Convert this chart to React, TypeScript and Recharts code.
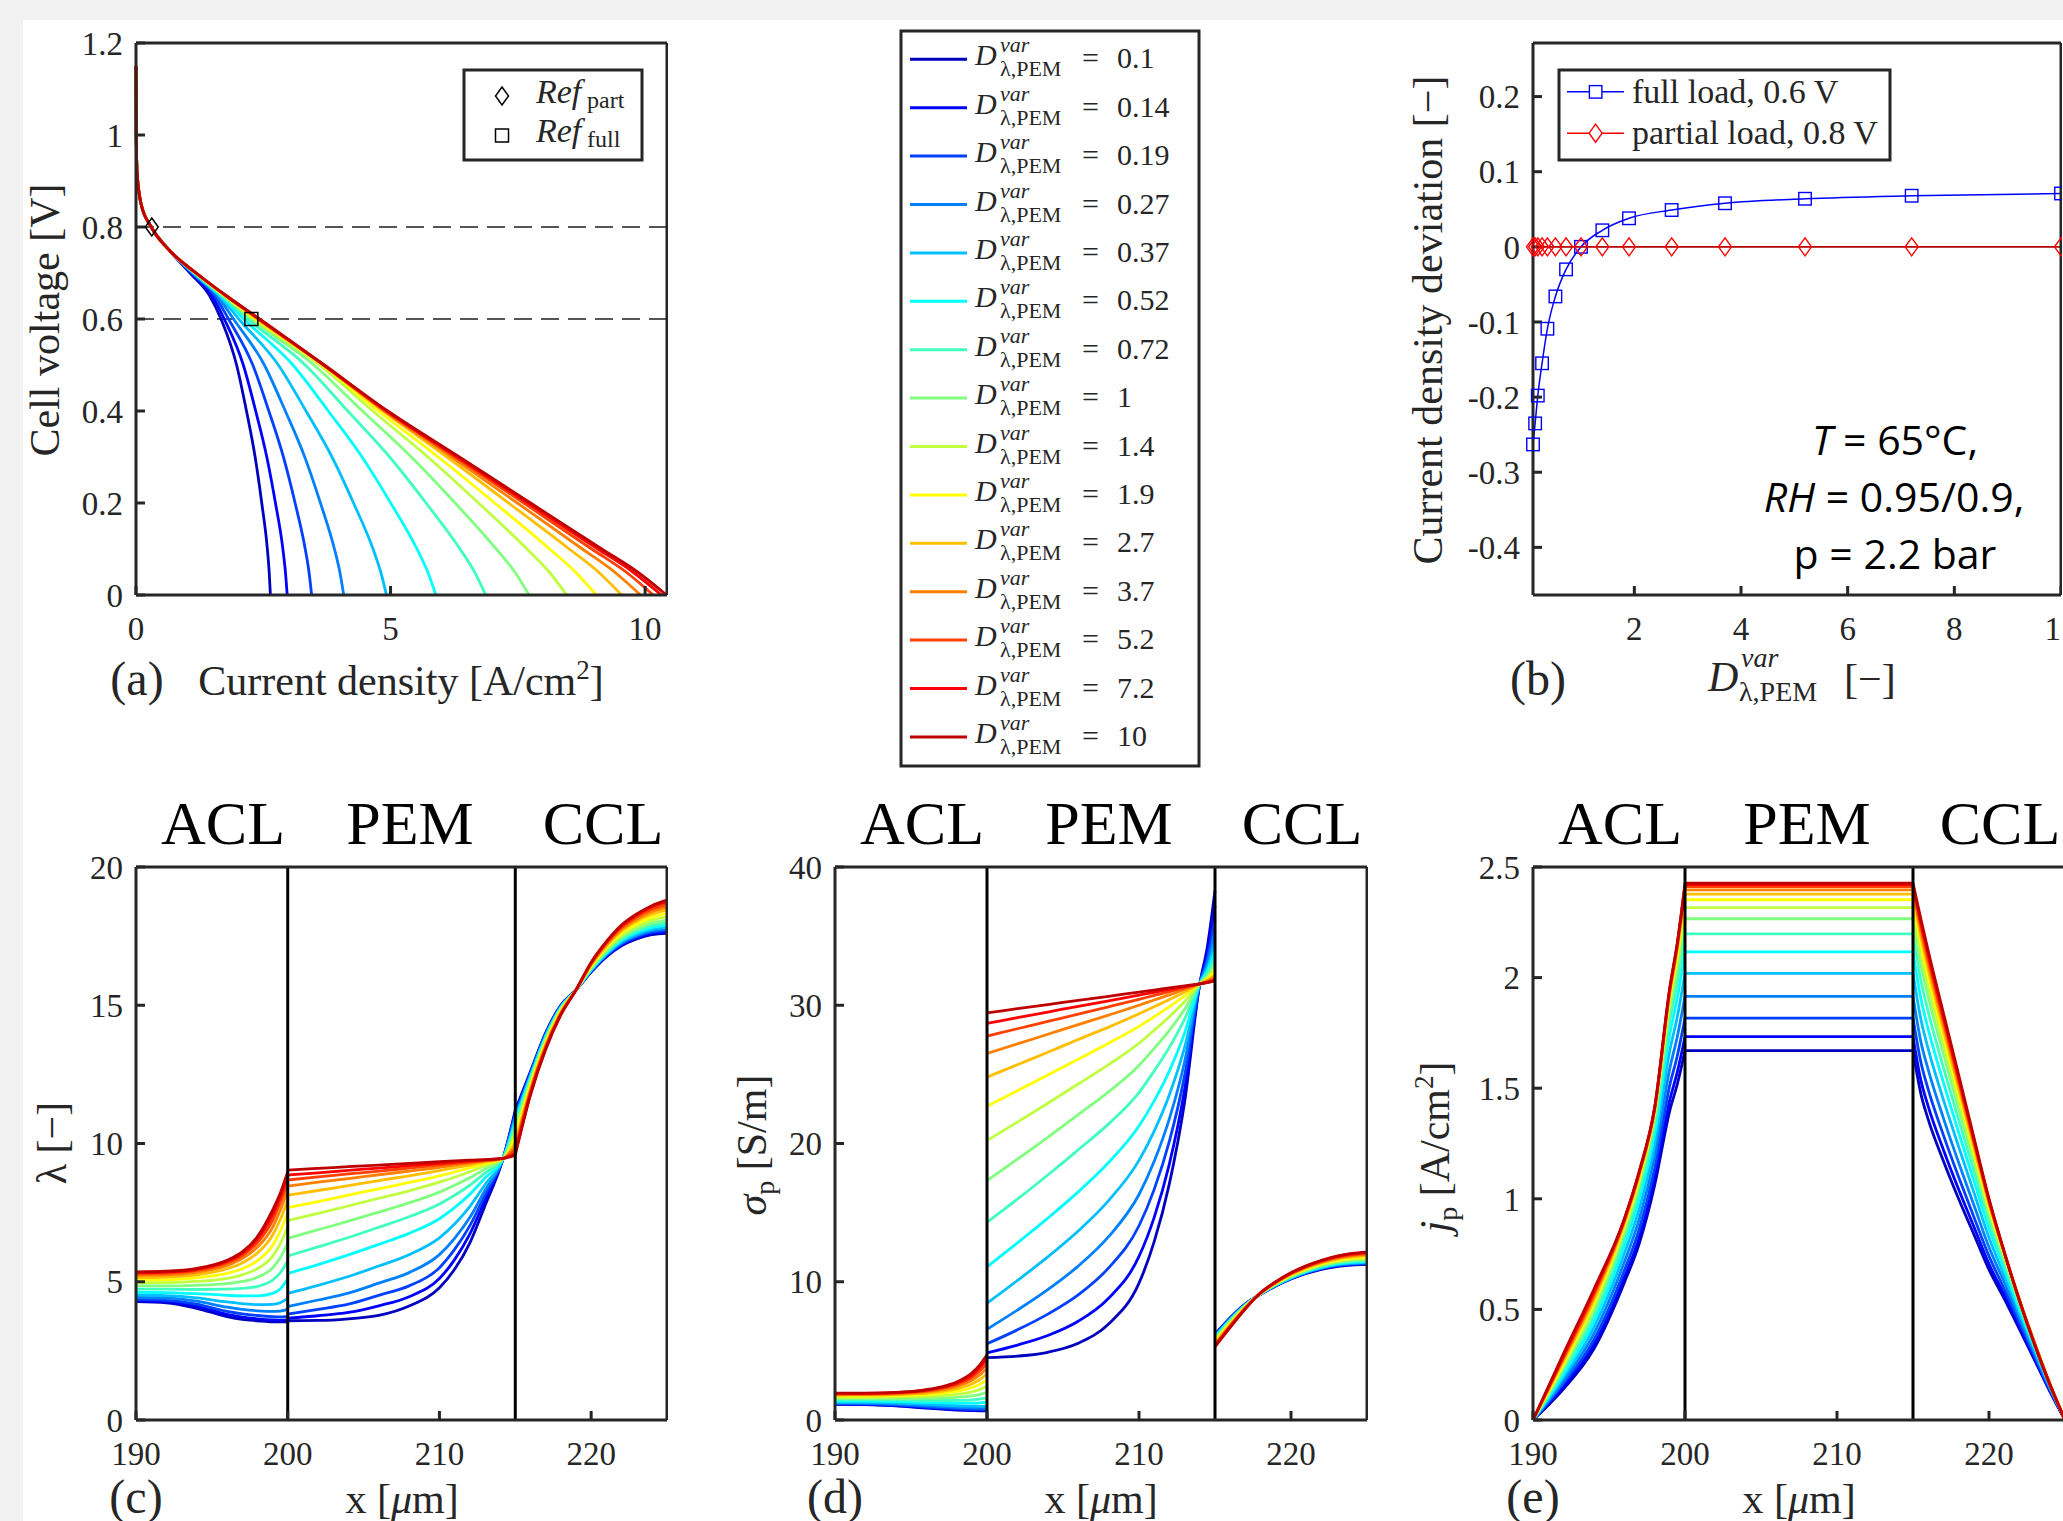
import React from "react";
import { LineChart, Line, XAxis, YAxis, ReferenceLine, ReferenceDot } from "recharts";

const SERIF = "'Liberation Serif', 'Times New Roman', serif";
const SANS = "'Open Sans', 'Noto Sans', sans-serif";
const INK = "#262626";

// ---- shared series ----
const D_VALUES = [0.1, 0.14, 0.19, 0.27, 0.37, 0.52, 0.72, 1, 1.4, 1.9, 2.7, 3.7, 5.2, 7.2, 10];
const D_LABELS = ["0.1", "0.14", "0.19", "0.27", "0.37", "0.52", "0.72", "1", "1.4", "1.9", "2.7", "3.7", "5.2", "7.2", "10"];
const COLORS = [
  "#0000bf", "#0000ff", "#0040ff", "#0080ff", "#00bfff", "#00ffff", "#40ffbf", "#80ff80",
  "#bfff40", "#ffff00", "#ffbf00", "#ff8000", "#ff4000", "#ff0000", "#bf0000",
];

// ---- (a) polarization curves: current density at each voltage level ----
const V_LEVELS = [1.15, 1.0, 0.92, 0.85, 0.8, 0.75, 0.7, 0.65, 0.6, 0.5, 0.4, 0.3, 0.2, 0.1, 0.05, 0];
const J_HEAD = [0, 0.005, 0.02, 0.1, 0.3, 0.65];
const J_TAIL = [
  [1.06, 1.45, 1.670, 1.976, 2.170, 2.340, 2.470, 2.580, 2.616, 2.64],
  [1.08, 1.50, 1.733, 2.108, 2.351, 2.569, 2.739, 2.885, 2.935, 2.97],
  [1.10, 1.55, 1.817, 2.294, 2.609, 2.896, 3.125, 3.324, 3.398, 3.45],
  [1.115, 1.60, 1.915, 2.521, 2.933, 3.314, 3.623, 3.898, 4.004, 4.08],
  [1.13, 1.64, 2.019, 2.796, 3.339, 3.850, 4.273, 4.656, 4.807, 4.92],
  [1.14, 1.67, 2.116, 3.082, 3.777, 4.441, 5.003, 5.520, 5.731, 5.89],
  [1.15, 1.70, 2.198, 3.324, 4.160, 4.983, 5.697, 6.365, 6.650, 6.87],
  [1.16, 1.72, 2.266, 3.493, 4.448, 5.408, 6.269, 7.076, 7.442, 7.72],
  [1.165, 1.74, 2.316, 3.606, 4.651, 5.732, 6.727, 7.680, 8.116, 8.46],
  [1.17, 1.75, 2.352, 3.649, 4.760, 5.937, 7.047, 8.124, 8.632, 9.04],
  [1.175, 1.76, 2.377, 3.681, 4.848, 6.109, 7.319, 8.509, 9.082, 9.54],
  [1.18, 1.77, 2.397, 3.682, 4.876, 6.199, 7.491, 8.768, 9.399, 9.91],
  [1.18, 1.775, 2.411, 3.682, 4.906, 6.270, 7.618, 8.951, 9.625, 10.16],
  [1.18, 1.78, 2.420, 3.692, 4.924, 6.315, 7.697, 9.072, 9.759, 10.32],
  [1.18, 1.78, 2.427, 3.698, 4.945, 6.352, 7.750, 9.149, 9.852, 10.42],
];
const REF_PART = { j: 0.31, v: 0.8 };
const REF_FULL = { j: 2.266, v: 0.6 };

// ---- (b) current density deviation ----
const FULL_DEV = [-0.263, -0.235, -0.198, -0.155, -0.109, -0.066, -0.030, 0, 0.022, 0.038, 0.049, 0.058, 0.064, 0.068, 0.071];
const PARTIAL_DEV = [0, 0, 0, 0, 0, 0, 0, 0, 0, 0, 0, 0, 0, 0, 0];

// ---- x grids (µm) ----
const ACL_X = [190, 192, 194, 196, 197, 198, 199, 199.5, 200];
const CCL_X = [215, 216, 217, 218, 219, 220, 221, 222, 223, 224, 225];

// ---- (c) lambda ----
const LAMBDA_PEM_X = [200, 202, 204, 206, 208, 210, 211, 212, 213, 214.2, 215];
const LAMBDA_ACL = [
  [4.28, 4.24, 4.04, 3.74, 3.64, 3.59, 3.55, 3.55, 3.55],
  [4.31, 4.28, 4.11, 3.82, 3.72, 3.66, 3.62, 3.61, 3.62],
  [4.36, 4.33, 4.19, 3.93, 3.84, 3.78, 3.74, 3.73, 3.75],
  [4.43, 4.41, 4.30, 4.08, 4.00, 3.95, 3.93, 3.94, 4.00],
  [4.52, 4.50, 4.42, 4.27, 4.21, 4.17, 4.18, 4.24, 4.40],
  [4.62, 4.61, 4.57, 4.51, 4.49, 4.49, 4.58, 4.74, 5.10],
  [4.73, 4.73, 4.72, 4.73, 4.76, 4.83, 5.06, 5.32, 5.75],
  [4.85, 4.85, 4.87, 4.93, 5.01, 5.16, 5.50, 5.86, 6.40],
  [4.96, 4.97, 5.01, 5.12, 5.25, 5.47, 5.92, 6.36, 7.00],
  [5.06, 5.07, 5.14, 5.30, 5.47, 5.76, 6.31, 6.82, 7.50],
  [5.15, 5.17, 5.25, 5.47, 5.68, 6.04, 6.68, 7.24, 7.95],
  [5.23, 5.25, 5.34, 5.59, 5.84, 6.25, 6.97, 7.58, 8.30],
  [5.29, 5.31, 5.41, 5.68, 5.95, 6.41, 7.22, 7.86, 8.55],
  [5.33, 5.35, 5.45, 5.74, 6.03, 6.54, 7.43, 8.05, 8.80],
  [5.36, 5.38, 5.48, 5.78, 6.08, 6.63, 7.59, 8.19, 8.97],
];
const LAMBDA_PEM = [
  [3.59, 3.60, 3.66, 3.78, 4.12, 4.78, 5.45, 6.40, 7.75, 9.46, 11.20],
  [3.68, 3.77, 3.89, 4.13, 4.46, 5.12, 5.80, 6.72, 7.95, 9.46, 11.13],
  [3.83, 4.00, 4.19, 4.51, 4.85, 5.51, 6.17, 7.02, 8.13, 9.46, 11.07],
  [4.10, 4.34, 4.59, 4.95, 5.33, 5.98, 6.57, 7.32, 8.30, 9.46, 10.98],
  [4.58, 4.87, 5.19, 5.57, 5.98, 6.59, 7.09, 7.72, 8.51, 9.46, 10.90],
  [5.30, 5.62, 5.97, 6.35, 6.75, 7.28, 7.68, 8.16, 8.75, 9.46, 10.80],
  [5.93, 6.26, 6.60, 6.97, 7.35, 7.81, 8.13, 8.49, 8.93, 9.46, 10.69],
  [6.57, 6.88, 7.19, 7.52, 7.85, 8.24, 8.49, 8.76, 9.08, 9.46, 10.55],
  [7.21, 7.47, 7.74, 8.02, 8.29, 8.60, 8.78, 8.98, 9.20, 9.46, 10.39],
  [7.68, 7.90, 8.13, 8.36, 8.59, 8.83, 8.97, 9.12, 9.27, 9.46, 10.23],
  [8.13, 8.30, 8.48, 8.66, 8.83, 9.02, 9.12, 9.22, 9.33, 9.46, 10.05],
  [8.46, 8.60, 8.73, 8.87, 9.00, 9.14, 9.22, 9.29, 9.37, 9.46, 9.92],
  [8.68, 8.79, 8.90, 9.00, 9.11, 9.22, 9.28, 9.33, 9.39, 9.46, 9.78],
  [8.86, 8.94, 9.03, 9.11, 9.20, 9.28, 9.33, 9.37, 9.41, 9.46, 9.65],
  [9.04, 9.10, 9.16, 9.22, 9.28, 9.34, 9.37, 9.40, 9.42, 9.46, 9.58],
];
const LAMBDA_CCL = [
  [11.20, 12.60, 14.00, 15.00, 15.55, 16.20, 16.75, 17.15, 17.40, 17.55, 17.60],
  [11.13, 12.56, 13.97, 14.99, 15.55, 16.21, 16.77, 17.18, 17.44, 17.59, 17.65],
  [11.07, 12.53, 13.95, 14.97, 15.55, 16.23, 16.80, 17.21, 17.47, 17.64, 17.70],
  [10.98, 12.49, 13.92, 14.95, 15.55, 16.25, 16.82, 17.25, 17.52, 17.69, 17.76],
  [10.90, 12.44, 13.89, 14.94, 15.55, 16.26, 16.85, 17.29, 17.56, 17.74, 17.82],
  [10.80, 12.39, 13.85, 14.91, 15.55, 16.29, 16.89, 17.34, 17.63, 17.81, 17.90],
  [10.69, 12.33, 13.81, 14.89, 15.55, 16.31, 16.92, 17.39, 17.69, 17.88, 17.98],
  [10.55, 12.26, 13.76, 14.86, 15.55, 16.34, 16.97, 17.45, 17.76, 17.97, 18.08],
  [10.39, 12.18, 13.70, 14.83, 15.55, 16.38, 17.03, 17.53, 17.85, 18.08, 18.20],
  [10.23, 12.09, 13.64, 14.79, 15.55, 16.41, 17.08, 17.60, 17.94, 18.18, 18.32],
  [10.05, 12.00, 13.58, 14.75, 15.55, 16.45, 17.14, 17.68, 18.04, 18.29, 18.45],
  [9.92, 11.93, 13.52, 14.72, 15.55, 16.48, 17.19, 17.74, 18.11, 18.38, 18.55],
  [9.78, 11.86, 13.48, 14.69, 15.55, 16.51, 17.23, 17.81, 18.19, 18.47, 18.65],
  [9.65, 11.79, 13.43, 14.66, 15.55, 16.54, 17.28, 17.87, 18.26, 18.56, 18.75],
  [9.58, 11.75, 13.40, 14.65, 15.55, 16.55, 17.30, 17.90, 18.30, 18.60, 18.80],
];

// ---- (d) sigma_p ----
const SIGMA_PEM_X = [200, 202, 204, 206, 208, 210, 211, 212, 213, 214, 214.5, 215];
const SIGMA_ACL = [
  [1.13, 1.11, 1.02, 0.86, 0.78, 0.72, 0.68, 0.67, 0.66],
  [1.15, 1.13, 1.05, 0.90, 0.82, 0.76, 0.72, 0.71, 0.70],
  [1.18, 1.16, 1.09, 0.95, 0.88, 0.82, 0.77, 0.76, 0.75],
  [1.22, 1.21, 1.15, 1.03, 0.97, 0.91, 0.87, 0.86, 0.85],
  [1.28, 1.27, 1.23, 1.13, 1.08, 1.03, 1.00, 0.99, 1.00],
  [1.36, 1.36, 1.33, 1.27, 1.24, 1.22, 1.22, 1.24, 1.30],
  [1.45, 1.45, 1.44, 1.41, 1.41, 1.42, 1.46, 1.51, 1.60],
  [1.55, 1.55, 1.55, 1.56, 1.59, 1.64, 1.74, 1.84, 2.00],
  [1.64, 1.64, 1.66, 1.71, 1.76, 1.86, 2.04, 2.20, 2.45],
  [1.72, 1.73, 1.76, 1.84, 1.92, 2.07, 2.33, 2.56, 2.90],
  [1.79, 1.80, 1.84, 1.95, 2.06, 2.26, 2.61, 2.91, 3.35],
  [1.85, 1.86, 1.90, 2.04, 2.18, 2.43, 2.87, 3.24, 3.75],
  [1.89, 1.90, 1.95, 2.11, 2.28, 2.57, 3.08, 3.52, 4.10],
  [1.92, 1.93, 1.98, 2.16, 2.35, 2.67, 3.25, 3.75, 4.45],
  [1.94, 1.95, 2.00, 2.20, 2.40, 2.75, 3.40, 3.95, 4.72],
];
const SIGMA_PEM = [
  [4.51, 4.62, 4.90, 5.55, 6.95, 9.90, 12.90, 17.10, 23.00, 31.55, 34.25, 38.30],
  [4.86, 5.42, 6.11, 7.14, 8.81, 11.83, 14.66, 18.53, 23.89, 31.55, 33.80, 37.20],
  [5.51, 6.52, 7.66, 9.05, 11.00, 14.05, 16.68, 20.17, 24.91, 31.55, 33.41, 36.20],
  [6.56, 7.95, 9.43, 11.13, 13.26, 16.31, 18.71, 21.80, 25.90, 31.55, 33.05, 35.30],
  [8.45, 10.09, 11.80, 13.67, 15.87, 18.78, 20.90, 23.53, 26.95, 31.55, 32.73, 34.50],
  [11.08, 12.81, 14.60, 16.50, 18.63, 21.27, 23.08, 25.25, 27.99, 31.55, 32.49, 33.90],
  [14.30, 15.97, 17.72, 19.54, 21.42, 23.68, 25.25, 26.96, 28.99, 31.55, 32.29, 33.40],
  [17.32, 18.87, 20.44, 22.09, 23.74, 25.64, 26.88, 28.19, 29.71, 31.55, 32.13, 33.00],
  [20.21, 21.55, 22.91, 24.30, 25.71, 27.25, 28.19, 29.17, 30.27, 31.55, 32.01, 32.70],
  [22.70, 23.82, 24.95, 26.10, 27.25, 28.47, 29.17, 29.89, 30.67, 31.55, 31.89, 32.40],
  [24.80, 25.70, 26.60, 27.52, 28.42, 29.38, 29.89, 30.41, 30.96, 31.55, 31.81, 32.20],
  [26.51, 27.20, 27.90, 28.60, 29.29, 30.00, 30.38, 30.75, 31.15, 31.55, 31.75, 32.05],
  [27.77, 28.30, 28.83, 29.36, 29.89, 30.43, 30.71, 30.98, 31.26, 31.55, 31.69, 31.90],
  [28.69, 29.10, 29.51, 29.92, 30.32, 30.73, 30.94, 31.14, 31.34, 31.55, 31.65, 31.80],
  [29.45, 29.75, 30.05, 30.35, 30.65, 30.95, 31.10, 31.25, 31.40, 31.55, 31.63, 31.76],
];
const SIGMA_CCL = [
  [6.20, 7.40, 8.40, 9.10, 9.70, 10.20, 10.60, 10.90, 11.10, 11.20, 11.25],
  [6.16, 7.37, 8.39, 9.10, 9.71, 10.22, 10.62, 10.93, 11.13, 11.24, 11.29],
  [6.13, 7.34, 8.37, 9.11, 9.72, 10.24, 10.65, 10.95, 11.16, 11.27, 11.32],
  [6.08, 7.31, 8.35, 9.11, 9.74, 10.26, 10.67, 10.99, 11.20, 11.31, 11.37],
  [6.04, 7.27, 8.34, 9.12, 9.75, 10.28, 10.70, 11.02, 11.24, 11.36, 11.41],
  [5.98, 7.23, 8.31, 9.13, 9.78, 10.31, 10.74, 11.06, 11.29, 11.41, 11.48],
  [5.91, 7.18, 8.29, 9.13, 9.80, 10.34, 10.77, 11.11, 11.34, 11.47, 11.54],
  [5.84, 7.12, 8.26, 9.14, 9.82, 10.38, 10.82, 11.16, 11.40, 11.54, 11.61],
  [5.75, 7.05, 8.23, 9.15, 9.85, 10.43, 10.88, 11.23, 11.48, 11.63, 11.70],
  [5.66, 6.98, 8.19, 9.16, 9.88, 10.47, 10.93, 11.29, 11.55, 11.71, 11.79],
  [5.56, 6.90, 8.15, 9.17, 9.91, 10.52, 10.99, 11.36, 11.63, 11.80, 11.89],
  [5.49, 6.85, 8.12, 9.18, 9.94, 10.56, 11.04, 11.41, 11.69, 11.87, 11.96],
  [5.41, 6.79, 8.09, 9.19, 9.96, 10.59, 11.08, 11.47, 11.76, 11.94, 12.04],
  [5.34, 6.73, 8.06, 9.20, 9.99, 10.63, 11.13, 11.52, 11.82, 12.01, 12.11],
  [5.30, 6.70, 8.05, 9.20, 10.00, 10.65, 11.15, 11.55, 11.85, 12.05, 12.15],
];

// ---- (e) j_p ----
const JP_PEM_X = [200, 215];
const JP_CCL_X = [215, 215.5, 216, 217, 218, 219, 220, 221, 222, 223, 224, 225];
const JP_ACL = [
  [0, 0.140, 0.321, 0.620, 0.800, 1.060, 1.399, 1.520, 1.670],
  [0, 0.151, 0.340, 0.643, 0.828, 1.092, 1.447, 1.575, 1.733],
  [0, 0.164, 0.362, 0.674, 0.865, 1.136, 1.514, 1.648, 1.817],
  [0, 0.176, 0.389, 0.712, 0.910, 1.189, 1.589, 1.735, 1.915],
  [0, 0.192, 0.418, 0.751, 0.957, 1.244, 1.670, 1.825, 2.019],
  [0, 0.207, 0.444, 0.787, 1.001, 1.293, 1.744, 1.911, 2.116],
  [0, 0.222, 0.470, 0.818, 1.035, 1.332, 1.807, 1.980, 2.198],
  [0, 0.236, 0.494, 0.845, 1.065, 1.364, 1.856, 2.039, 2.266],
  [0, 0.245, 0.512, 0.864, 1.086, 1.383, 1.890, 2.082, 2.316],
  [0, 0.256, 0.529, 0.877, 1.098, 1.392, 1.915, 2.110, 2.352],
  [0, 0.266, 0.542, 0.887, 1.108, 1.398, 1.928, 2.130, 2.377],
  [0, 0.276, 0.556, 0.894, 1.115, 1.403, 1.937, 2.143, 2.397],
  [0, 0.282, 0.569, 0.902, 1.120, 1.407, 1.945, 2.153, 2.411],
  [0, 0.290, 0.578, 0.905, 1.124, 1.410, 1.950, 2.156, 2.420],
  [0, 0.299, 0.590, 0.908, 1.127, 1.412, 1.955, 2.160, 2.427],
];
const JP_PEM = [1.670, 1.733, 1.817, 1.915, 2.019, 2.116, 2.198, 2.266, 2.316, 2.352, 2.377, 2.397, 2.411, 2.420, 2.427];
const JP_CCL = [
  [1.670, 1.480, 1.359, 1.171, 1.000, 0.840, 0.680, 0.549, 0.411, 0.271, 0.130, 0],
  [1.733, 1.541, 1.418, 1.222, 1.043, 0.875, 0.705, 0.568, 0.423, 0.277, 0.133, 0],
  [1.817, 1.623, 1.495, 1.288, 1.099, 0.919, 0.741, 0.594, 0.442, 0.289, 0.138, 0],
  [1.915, 1.716, 1.584, 1.365, 1.164, 0.973, 0.781, 0.624, 0.462, 0.301, 0.144, 0],
  [2.019, 1.817, 1.678, 1.448, 1.236, 1.030, 0.824, 0.654, 0.483, 0.315, 0.151, 0],
  [2.116, 1.911, 1.767, 1.526, 1.301, 1.083, 0.865, 0.683, 0.501, 0.326, 0.157, 0],
  [2.198, 1.994, 1.846, 1.594, 1.358, 1.128, 0.899, 0.708, 0.519, 0.336, 0.160, 0],
  [2.266, 2.064, 1.913, 1.654, 1.407, 1.167, 0.929, 0.727, 0.530, 0.342, 0.163, 0],
  [2.316, 2.117, 1.964, 1.700, 1.445, 1.197, 0.950, 0.741, 0.537, 0.345, 0.164, 0],
  [2.352, 2.159, 2.006, 1.736, 1.475, 1.218, 0.964, 0.750, 0.543, 0.348, 0.165, 0],
  [2.377, 2.189, 2.037, 1.764, 1.498, 1.236, 0.977, 0.756, 0.544, 0.347, 0.164, 0],
  [2.397, 2.217, 2.064, 1.788, 1.520, 1.251, 0.985, 0.757, 0.544, 0.348, 0.165, 0],
  [2.411, 2.237, 2.086, 1.808, 1.536, 1.263, 0.991, 0.759, 0.542, 0.345, 0.164, 0],
  [2.420, 2.255, 2.105, 1.825, 1.549, 1.271, 0.997, 0.760, 0.542, 0.344, 0.162, 0],
  [2.427, 2.270, 2.121, 1.840, 1.561, 1.279, 1.000, 0.760, 0.539, 0.340, 0.160, 0],
];

// ---- layout ----
interface PanelSpec {
  left: number;
  top: number;
  plotW: number;
  plotH: number;
  xDomain: [number, number];
  yDomain: [number, number];
  xTicks: number[];
  yTicks: number[];
}
const AXIS_W = 100;
const AXIS_H = 100;
const PAD_TOP = 30;
const X_UM: [number, number] = [190, 225];
const X_UM_TICKS = [190, 200, 210, 220];

const PANEL_A: PanelSpec = { left: 136, top: 43, plotW: 531, plotH: 552, xDomain: [0, 10.43], yDomain: [0, 1.2], xTicks: [0, 5, 10], yTicks: [0, 0.2, 0.4, 0.6, 0.8, 1, 1.2] };
const PANEL_B: PanelSpec = { left: 1533, top: 43, plotW: 528, plotH: 552, xDomain: [0.1, 10], yDomain: [-0.4634, 0.2713], xTicks: [2, 4, 6, 8, 10], yTicks: [-0.4, -0.3, -0.2, -0.1, 0, 0.1, 0.2] };
const PANEL_C: PanelSpec = { left: 136, top: 867, plotW: 531, plotH: 553, xDomain: X_UM, yDomain: [0, 20], xTicks: X_UM_TICKS, yTicks: [0, 5, 10, 15, 20] };
const PANEL_D: PanelSpec = { left: 835, top: 867, plotW: 532, plotH: 553, xDomain: X_UM, yDomain: [0, 40], xTicks: X_UM_TICKS, yTicks: [0, 10, 20, 30, 40] };
const PANEL_E: PanelSpec = { left: 1533, top: 867, plotW: 532, plotH: 553, xDomain: X_UM, yDomain: [0, 2.5], xTicks: X_UM_TICKS, yTicks: [0, 0.5, 1, 1.5, 2, 2.5] };

type Pt = { x: number; y: number | null };

function polCurve(k: number): Pt[] {
  return V_LEVELS.map((v, i) => ({
    x: i < J_HEAD.length ? J_HEAD[i] : J_TAIL[k][i - J_HEAD.length],
    y: v,
  }));
}

function layered(xsList: number[][], rowsList: number[][][], k: number): Pt[] {
  const pts: Pt[] = [];
  xsList.forEach((xs, s) => {
    if (s > 0) pts.push({ x: xs[0], y: null });
    xs.forEach((x, i) => pts.push({ x, y: rowsList[s][k][i] }));
  });
  return pts;
}

const JP_PEM_ROWS = JP_PEM.map((v) => JP_PEM_X.map(() => v));

function Frame({ spec, children }: { spec: PanelSpec; children: React.ReactNode }) {
  const axisLine = { stroke: INK, strokeWidth: 3 };
  const tickLine = { stroke: INK, strokeWidth: 3 };
  const tick = { fill: INK, fontSize: 33, fontFamily: SERIF };
  return (
    <div style={{ position: "absolute", left: spec.left - AXIS_W, top: spec.top - 1 - PAD_TOP }}>
      <LineChart
        width={AXIS_W + spec.plotW + 1}
        height={PAD_TOP + spec.plotH + 1 + AXIS_H}
        margin={{ top: PAD_TOP, right: 0, bottom: 0, left: 0 }}
      >
        <XAxis dataKey="x" type="number" domain={spec.xDomain} ticks={spec.xTicks} interval={0}
          height={AXIS_H} tickSize={-9} tickMargin={31} axisLine={axisLine} tickLine={tickLine} tick={tick} />
        <XAxis xAxisId="top" orientation="top" dataKey="x" type="number" domain={spec.xDomain} ticks={spec.xTicks}
          interval={0} height={1} tickSize={-9} axisLine={axisLine} tickLine={tickLine} tick={false} />
        <YAxis type="number" domain={spec.yDomain} ticks={spec.yTicks} interval={0} width={AXIS_W}
          tickSize={-9} tickMargin={22} axisLine={axisLine} tickLine={tickLine} tick={tick} />
        <YAxis yAxisId="right" orientation="right" type="number" domain={spec.yDomain} ticks={spec.yTicks}
          interval={0} width={1} tickSize={-9} axisLine={axisLine} tickLine={tickLine} tick={false} />
        {children}
      </LineChart>
    </div>
  );
}

function seriesLines(dataFor: (k: number) => Pt[]) {
  return COLORS.map((c, k) => (
    <Line key={`s${k}`} data={dataFor(k)} dataKey="y" type="monotone" stroke={c} strokeWidth={2.8}
      dot={false} isAnimationActive={false} connectNulls={false} />
  ));
}

function layerLines() {
  return [
    <ReferenceLine key="b200" x={200} stroke="#000" strokeWidth={3} />,
    <ReferenceLine key="b215" x={215} stroke="#000" strokeWidth={3} />,
  ];
}

const diamondShape = (p: any) => (
  <path d={`M${p.cx} ${p.cy - 9} L${p.cx + 6.5} ${p.cy} L${p.cx} ${p.cy + 9} L${p.cx - 6.5} ${p.cy} Z`}
    fill="none" stroke="#000" strokeWidth={1.5} />
);
const squareShape = (p: any) => (
  <rect x={p.cx - 6.5} y={p.cy - 6.5} width={13} height={13} fill="none" stroke="#000" strokeWidth={1.5} />
);

function Overlay() {
  const t = { fontFamily: SERIF, fill: INK } as const;
  const legendRows = D_LABELS.map((lab, i) => {
    const cy = 59.3 + i * 48.4;
    return (
      <g key={lab}>
        <line x1={910} x2={967} y1={cy} y2={cy} stroke={COLORS[i]} strokeWidth={3} />
        <text {...t} x={975} y={cy + 6} fontSize={30} fontStyle="italic">D</text>
        <text {...t} x={1000} y={cy - 7} fontSize={22} fontStyle="italic">var</text>
        <text {...t} x={1000} y={cy + 17} fontSize={22}>λ,PEM</text>
        <text {...t} x={1082} y={cy + 9} fontSize={30}>=</text>
        <text {...t} x={1117} y={cy + 9} fontSize={30}>{lab}</text>
      </g>
    );
  });
  const headers = [PANEL_C, PANEL_D, PANEL_E].map((p, i) => (
    <g key={`h${i}`}>
      <text x={p.left + 87} y={844} fontFamily={SERIF} fontSize={62} textAnchor="middle" fill="#000">ACL</text>
      <text x={p.left + 274} y={844} fontFamily={SERIF} fontSize={62} textAnchor="middle" fill="#000">PEM</text>
      <text x={p.left + 467} y={844} fontFamily={SERIF} fontSize={62} textAnchor="middle" fill="#000">CCL</text>
    </g>
  ));
  const bottomLabels = [
    { p: PANEL_C, tag: "(c)" },
    { p: PANEL_D, tag: "(d)" },
    { p: PANEL_E, tag: "(e)" },
  ].map(({ p, tag }) => (
    <g key={tag}>
      <text {...t} x={p.left} y={1513} fontSize={48} textAnchor="middle">{tag}</text>
      <text {...t} x={p.left + 266} y={1513} fontSize={42} textAnchor="middle">
        x [<tspan fontStyle="italic">μ</tspan>m]
      </text>
    </g>
  ));
  return (
    <svg width={2063} height={1521} style={{ position: "absolute", left: 0, top: 0, pointerEvents: "none" }}>
      {/* (a) */}
      <text {...t} x={59} y={320} fontSize={42} textAnchor="middle" transform="rotate(-90 59 320)">Cell voltage [V]</text>
      <text {...t} x={137} y={695} fontSize={48} textAnchor="middle">(a)</text>
      <text {...t} x={401} y={695} fontSize={42} textAnchor="middle">
        Current density [A/cm<tspan fontSize={27} dy={-16}>2</tspan><tspan dy={16}>]</tspan>
      </text>
      <rect x={464} y={70} width={178} height={90} fill="#fff" stroke={INK} strokeWidth={3} />
      <path d="M502 87 L508.5 96 L502 105 L495.5 96 Z" fill="none" stroke="#000" strokeWidth={1.5} />
      <rect x={495.5} y={129} width={13} height={13} fill="none" stroke="#000" strokeWidth={1.5} />
      <text {...t} x={536} y={103} fontSize={34} fontStyle="italic">Ref</text>
      <text {...t} x={587} y={108} fontSize={24}>part</text>
      <text {...t} x={536} y={142} fontSize={34} fontStyle="italic">Ref</text>
      <text {...t} x={587} y={147} fontSize={24}>full</text>

      {/* legend */}
      <rect x={901} y={31} width={298} height={735} fill="#fff" stroke={INK} strokeWidth={3} />
      {legendRows}

      {/* (b) */}
      <text {...t} x={1442} y={320} fontSize={42} textAnchor="middle" transform="rotate(-90 1442 320)">
        Current density deviation [−]
      </text>
      <text {...t} x={1538} y={695} fontSize={48} textAnchor="middle">(b)</text>
      <text {...t} x={1708} y={691} fontSize={42} fontStyle="italic">D</text>
      <text {...t} x={1741} y={667} fontSize={28} fontStyle="italic">var</text>
      <text {...t} x={1739} y={701} fontSize={28}>λ,PEM</text>
      <text {...t} x={1844} y={693} fontSize={42}>[−]</text>
      <rect x={1559} y={70} width={331} height={90} fill="#fff" stroke={INK} strokeWidth={3} />
      <line x1={1567} x2={1624} y1={91.8} y2={91.8} stroke="#0000ff" strokeWidth={1.5} />
      <rect x={1589.4} y={85.6} width={12.5} height={12.5} fill="#fff" stroke="#0000ff" strokeWidth={1.4} />
      <text {...t} x={1632} y={103} fontSize={34}>full load, 0.6 V</text>
      <line x1={1567} x2={1624} y1={133.2} y2={133.2} stroke="#ff0000" strokeWidth={1.5} />
      <path d="M1595.6 124.2 L1602.1 133.2 L1595.6 142.2 L1589.1 133.2 Z" fill="#fff" stroke="#ff0000" strokeWidth={1.4} />
      <text {...t} x={1632} y={144} fontSize={34}>partial load, 0.8 V</text>
      <g fontFamily={SANS} fontSize={41} fill="#000" textAnchor="middle">
        <text x={1895} y={455}><tspan fontStyle="italic">T</tspan> = 65°C,</text>
        <text x={1894} y={512}><tspan fontStyle="italic">RH</tspan> = 0.95/0.9,</text>
        <text x={1895} y={569}>p = 2.2 bar</text>
      </g>

      {/* bottom row */}
      {headers}
      <text {...t} x={66} y={1143} fontSize={42} textAnchor="middle" transform="rotate(-90 66 1143)">λ [−]</text>
      <text {...t} x={766} y={1145} fontSize={42} textAnchor="middle" transform="rotate(-90 766 1145)">
        <tspan fontStyle="italic">σ</tspan><tspan fontSize={28} dy={8}>p</tspan><tspan dy={-8}> [S/m]</tspan>
      </text>
      <text {...t} x={1449} y={1147} fontSize={42} textAnchor="middle" transform="rotate(-90 1449 1147)">
        <tspan fontStyle="italic">j</tspan><tspan fontSize={28} dy={8}>p</tspan>
        <tspan dy={-8}> [A/cm</tspan><tspan fontSize={27} dy={-16}>2</tspan><tspan dy={16}>]</tspan>
      </text>
      {bottomLabels}
    </svg>
  );
}

export default function App() {
  const fullLoad = D_VALUES.map((d, i) => ({ x: d, y: FULL_DEV[i] }));
  const partialLoad = D_VALUES.map((d, i) => ({ x: d, y: PARTIAL_DEV[i] }));
  return (
    <div style={{ position: "fixed", left: 0, top: 0, width: 2063, height: 1521, overflow: "hidden", background: "#f2f2f2" }}>
      <div style={{ position: "absolute", left: 23, top: 20, right: 0, bottom: 0, background: "#fff" }} />

      <Frame spec={PANEL_A}>
        {[
          <ReferenceLine key="r8" y={REF_PART.v} stroke="#555" strokeWidth={2} strokeDasharray="18 9" />,
          <ReferenceLine key="r6" y={REF_FULL.v} stroke="#555" strokeWidth={2} strokeDasharray="18 9" />,
          ...seriesLines(polCurve),
          <ReferenceDot key="dp" x={REF_PART.j} y={REF_PART.v} r={8} shape={diamondShape} />,
          <ReferenceDot key="df" x={REF_FULL.j} y={REF_FULL.v} r={7} shape={squareShape} />,
        ]}
      </Frame>

      <Frame spec={PANEL_B}>
        {[
          <ReferenceLine key="z" y={0} stroke="#000" strokeWidth={1.5} />,
          <Line key="full" data={fullLoad} dataKey="y" type="monotone" stroke="#0000ff" strokeWidth={1.5}
            isAnimationActive={false}
            dot={(p: any) => (
              <rect key={`sq${p.index}`} x={p.cx - 6.25} y={p.cy - 6.25} width={12.5} height={12.5}
                fill="none" stroke="#0000ff" strokeWidth={1.4} />
            )} />,
          <Line key="part" data={partialLoad} dataKey="y" type="linear" stroke="#ff0000" strokeWidth={1.2}
            isAnimationActive={false}
            dot={(p: any) => (
              <path key={`dm${p.index}`}
                d={`M${p.cx} ${p.cy - 9} L${p.cx + 6.5} ${p.cy} L${p.cx} ${p.cy + 9} L${p.cx - 6.5} ${p.cy} Z`}
                fill="none" stroke="#ff0000" strokeWidth={1.4} />
            )} />,
        ]}
      </Frame>

      <Frame spec={PANEL_C}>
        {[...seriesLines((k) => layered([ACL_X, LAMBDA_PEM_X, CCL_X], [LAMBDA_ACL, LAMBDA_PEM, LAMBDA_CCL], k)), ...layerLines()]}
      </Frame>

      <Frame spec={PANEL_D}>
        {[...seriesLines((k) => layered([ACL_X, SIGMA_PEM_X, CCL_X], [SIGMA_ACL, SIGMA_PEM, SIGMA_CCL], k)), ...layerLines()]}
      </Frame>

      <Frame spec={PANEL_E}>
        {[...seriesLines((k) => layered([ACL_X, JP_PEM_X, JP_CCL_X], [JP_ACL, JP_PEM_ROWS, JP_CCL], k)), ...layerLines()]}
      </Frame>

      <Overlay />
    </div>
  );
}
